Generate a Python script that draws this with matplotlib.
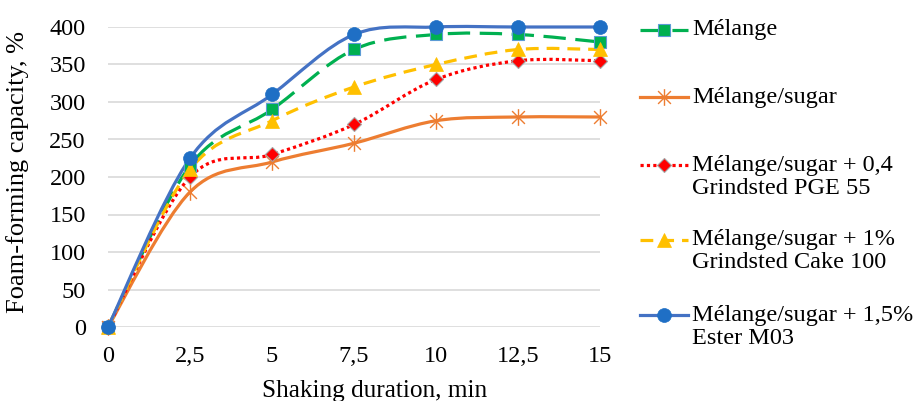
import matplotlib.pyplot as plt
import numpy as np
from matplotlib.path import Path
from matplotlib.patches import PathPatch
from matplotlib.lines import Line2D

plt.rcParams['font.family'] = ['Liberation Serif', 'DejaVu Serif']

# Data
duration = np.array([0, 2.5, 5, 7.5, 10, 12.5, 15])
tick_labels = ['0', '2,5', '5', '7,5', '10', '12,5', '15']
melange = np.array([0, 215, 290, 370, 390, 390, 380])
melange_sugar = np.array([0, 180, 220, 245, 275, 280, 280])
sugar_pge = np.array([0, 200, 230, 270, 330, 355, 355])
sugar_cake = np.array([0, 210, 275, 320, 350, 370, 370])
sugar_ester = np.array([0, 225, 310, 390, 400, 400, 400])

labels = ['Mélange', 'Mélange/sugar', 'Mélange/sugar + 0,4\nGrindsted PGE 55',
          'Mélange/sugar + 1%\nGrindsted Cake 100', 'Mélange/sugar + 1,5%\nEster M03']


def smooth_path(x, y):
    # Excel-like smoothed line as cubic bezier segments
    pts = np.column_stack([x, y]).astype(float)
    n = len(pts)
    verts = [pts[0]]
    codes = [Path.MOVETO]
    for i in range(n - 1):
        p0 = pts[i - 1] if i > 0 else pts[i]
        p1 = pts[i]
        p2 = pts[i + 1]
        p3 = pts[i + 2] if i + 2 < n else pts[i + 1]
        verts += [p1 + (p2 - p0) / 6, p2 - (p3 - p1) / 6, p2]
        codes += [Path.CURVE4] * 3
    return Path(verts, codes)


fs = 17.5
fig = plt.figure(figsize=(9.18, 4.01), dpi=100)
ax = fig.add_axes([108 / 918, 74 / 401, 492 / 918, 300 / 401])

lw = 2.3
styles = [
    dict(color='#00B050', ls=(0, (7, 3)), marker='s', mfc='#00B050', mec='#5B9BD5', ms=9, mew=0.8),
    dict(color='#ED7D31', ls='-', marker=None, mfc='none', mec='#ED7D31', ms=0, mew=1.0),
    dict(color='#FF0000', ls=(0, (1, 1)), marker='D', mfc='#FF0000', mec='#A5A5A5', ms=7.5, mew=0.8),
    dict(color='#FFC000', ls=(0, (4, 2.5)), marker='^', mfc='#FFC000', mec='#FFC000', ms=10, mew=0.5),
    dict(color='#4472C4', ls='-', marker='o', mfc='#1F6FC5', mec='#1F6FC5', ms=10, mew=0.5),
]

# asterisk marker for Mélange/sugar
star = Path([(-1, -1), (1, 1), (-1, 1), (1, -1), (0, -1.3), (0, 1.3)],
            [Path.MOVETO, Path.LINETO, Path.MOVETO, Path.LINETO, Path.MOVETO, Path.LINETO])
styles[1]['marker'] = star
styles[1]['ms'] = 12

series = [melange, melange_sugar, sugar_pge, sugar_cake, sugar_ester]
for vals, st in zip(series, styles):
    patch = PathPatch(smooth_path(duration, vals), fill=False, edgecolor=st['color'],
                      linewidth=lw, linestyle=st['ls'], capstyle='butt', clip_on=False, zorder=2)
    ax.add_patch(patch)
    ax.plot(duration, vals, ls='none', marker=st['marker'], markersize=st['ms'],
            markerfacecolor=st['mfc'], markeredgecolor=st['mec'], markeredgewidth=st['mew'],
            clip_on=False, zorder=3)

ax.set_xlim(0, 15)
ax.set_ylim(0, 400)
ax.set_xticks(duration)
ax.set_xticklabels(tick_labels)
ax.set_yticks(np.arange(0, 401, 50))
ax.tick_params(length=0, labelsize=fs)
ax.tick_params(axis='x', pad=14)
ax.tick_params(axis='y', pad=16)
ax.grid(axis='y', color='#D9D9D9', linewidth=1.2)
ax.set_axisbelow(True)
for s in ax.spines.values():
    s.set_visible(False)

ax.set_ylabel('Foam-forming capacity, %', fontsize=19)
ax.set_xlabel('Shaking duration, min', fontsize=18.2)
ax.yaxis.set_label_coords(-0.16, 0.517)
ax.xaxis.set_label_coords(0.541, -0.178)

# legend drawn by hand
leg_y = [30, 97, 165, 240, 315]
for lab, st, yy in zip(labels, styles, leg_y):
    yf = 1 - yy / 401
    fig.add_artist(Line2D([640 / 918, 688 / 918], [yf, yf], color=st['color'], linewidth=lw,
                          linestyle=st['ls'], transform=fig.transFigure))
    fig.add_artist(Line2D([664 / 918], [yf], ls='none', marker=st['marker'], markersize=st['ms'],
                          markerfacecolor=st['mfc'], markeredgecolor=st['mec'],
                          markeredgewidth=st['mew'], transform=fig.transFigure))
    for k, line in enumerate(lab.split('\n')):
        fig.text(692 / 918, 1 - (yy + 23 * k) / 401, line, fontsize=fs, va='center', ha='left')

fig.savefig('out.png', dpi=100)
